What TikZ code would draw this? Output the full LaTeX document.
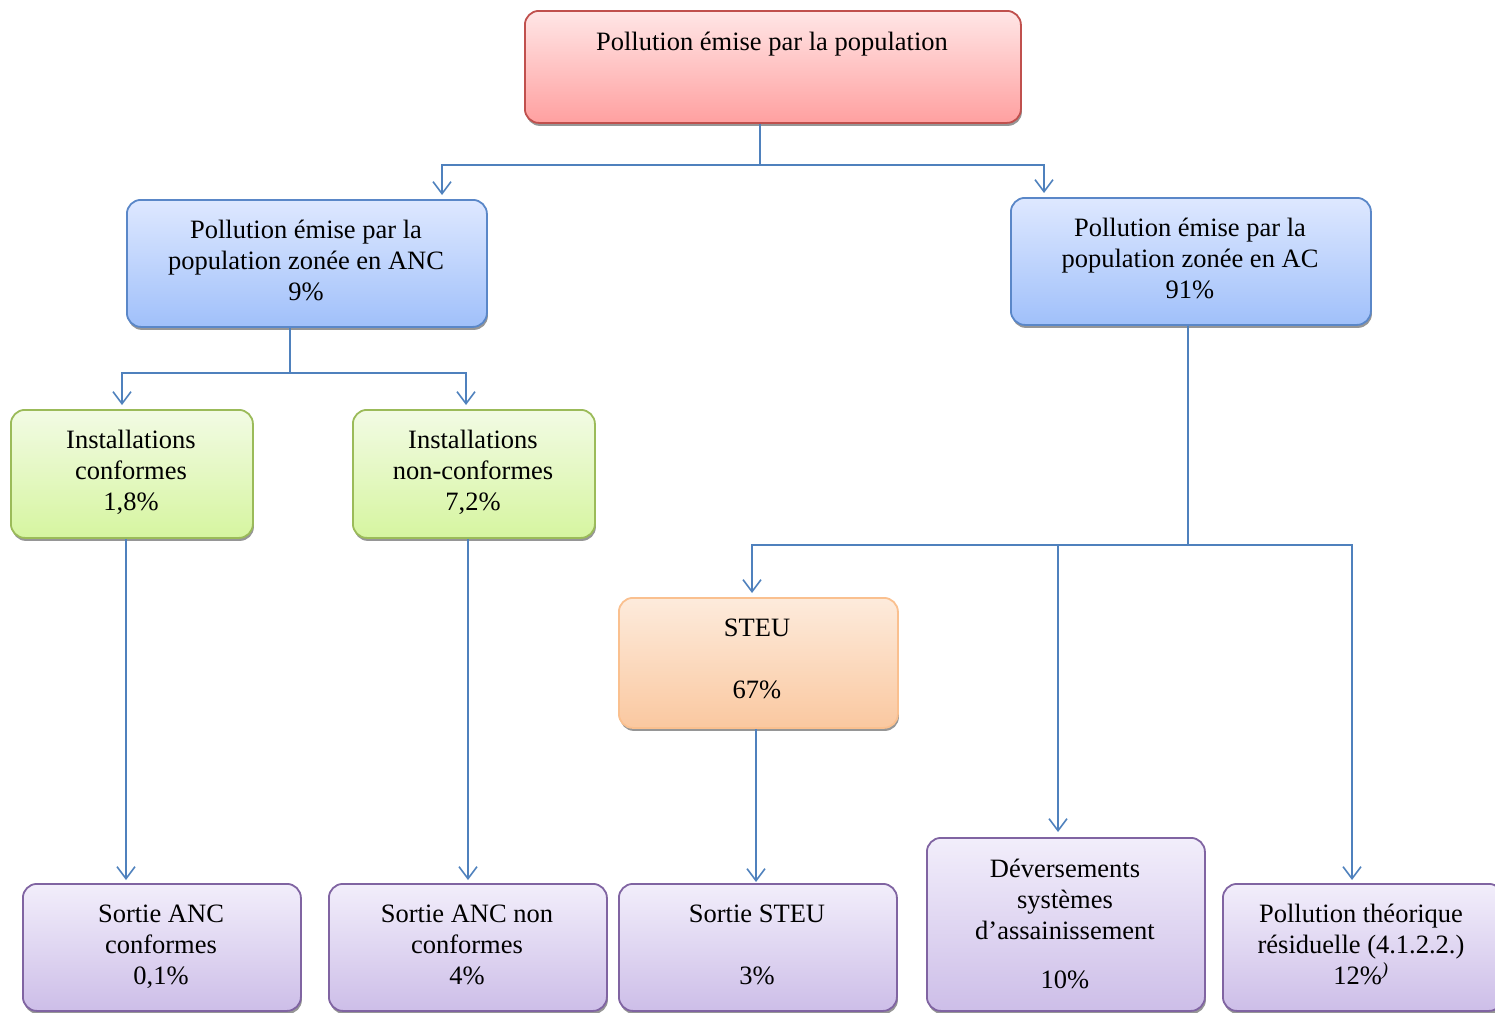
\documentclass[tikz,border=0pt]{standalone}
\usepackage{fontspec}
\setmainfont{Liberation Serif}
\usetikzlibrary{arrows.meta,shadows}
\definecolor{lineblue}{RGB}{79,129,189}
\definecolor{redT}{RGB}{255,230,230}\definecolor{redB}{RGB}{255,160,160}\definecolor{redD}{RGB}{192,80,77}
\definecolor{bluT}{RGB}{222,232,255}\definecolor{bluB}{RGB}{160,192,250}\definecolor{bluD}{RGB}{90,135,200}
\definecolor{grnT}{RGB}{242,251,228}\definecolor{grnB}{RGB}{214,245,160}\definecolor{grnD}{RGB}{155,187,89}
\definecolor{orgT}{RGB}{253,235,220}\definecolor{orgB}{RGB}{250,200,160}\definecolor{orgD}{RGB}{250,192,143}
\definecolor{purT}{RGB}{242,238,251}\definecolor{purB}{RGB}{205,190,232}\definecolor{purD}{RGB}{128,100,162}
\newcommand\fl{\rule{0pt}{24pt}}
\begin{document}
\begin{tikzpicture}[x=1pt,y=-1pt,
  box/.style={rounded corners=14pt, line width=1.8pt, anchor=north west, inner sep=0pt,
    drop shadow={shadow xshift=1pt,shadow yshift=-3pt,fill=black!55,opacity=0.75}},
  redbox/.style={box, draw=redD, top color=redT, bottom color=redB},
  blubox/.style={box, draw=bluD, top color=bluT, bottom color=bluB},
  grnbox/.style={box, draw=grnD, top color=grnT, bottom color=grnB},
  orgbox/.style={box, draw=orgD, top color=orgT, bottom color=orgB},
  purbox/.style={box, draw=purD, top color=purT, bottom color=purB},
  txt/.style={anchor=north, inner sep=0pt, align=center, font=\fontsize{26.5}{31}\selectfont},
  ln/.style={draw=lineblue, line width=1.6pt},
  arr/.style={ln, -{Straight Barb[length=12pt,width=18pt,line width=1.6pt]}}]
\useasboundingbox (0,0) rectangle (1495,1012);

% boxes
\node[redbox, minimum width=496pt, minimum height=112pt] (top) at (524,10) {};
\node[blubox, minimum width=360pt, minimum height=127pt] (anc) at (126,199) {};
\node[blubox, minimum width=360pt, minimum height=127pt] (ac) at (1010,197) {};
\node[grnbox, minimum width=242pt, minimum height=128pt] (ic) at (10,409) {};
\node[grnbox, minimum width=242pt, minimum height=128pt] (inc) at (352,409) {};
\node[orgbox, minimum width=279pt, minimum height=130pt] (steu) at (618,597) {};
\node[purbox, minimum width=278pt, minimum height=127pt] (sac) at (22,883) {};
\node[purbox, minimum width=278pt, minimum height=127pt] (sanc) at (328,883) {};
\node[purbox, minimum width=278pt, minimum height=127pt] (sst) at (618,883) {};
\node[purbox, minimum width=278pt, minimum height=173pt] (dev) at (926,837) {};
\node[purbox, minimum width=280pt, minimum height=127pt] (pth) at (1222,883) {};

% texts
\node[txt] (topT) at (772,26) {\fl Pollution émise par la population};
\node[txt] (ancT) at (306,214) {\fl Pollution émise par la\\population zonée en ANC\\9\%};
\node[txt] (acT) at (1190,212) {\fl Pollution émise par la\\population zonée en AC\\91\%};
\node[txt] (icT) at (131,424) {\fl Installations\\conformes\\1,8\%};
\node[txt] (incT) at (473,424) {\fl Installations\\non-conformes\\7,2\%};
\node[txt] (steuT) at (757,612) {\fl STEU\\[31pt]67\%};
\node[txt] (sacT) at (161,898) {\fl Sortie ANC\\conformes\\0,1\%};
\node[txt] (sancT) at (467,898) {\fl Sortie ANC non\\conformes\\4\%};
\node[txt] (sstT) at (757,898) {\fl Sortie STEU\\[31pt]3\%};
\node[txt] (devT) at (1065,853) {\fl Déversements\\systèmes\\d’assainissement\\[18pt]10\%};
\node[txt] (pthT) at (1361,898) {\fl Pollution théorique\\résiduelle (4.1.2.2.)\\12\%\textsuperscript{\itshape )}};

% junctions and arrow ends
\coordinate (j1) at (760,165);
\coordinate (eAnc) at (442,195);
\coordinate (eAc) at (1044,193);
\coordinate (j2) at (290,373);
\coordinate (eIc) at (122,405);
\coordinate (eInc) at (466,405);
\coordinate (j3) at (1188,545);
\coordinate (eSteu) at (752,593);
\coordinate (eDev) at (1058,832);
\coordinate (ePth) at (1352,880);
\coordinate (eSac) at (126,880);
\coordinate (eSanc) at (468,880);
\coordinate (eSst) at (756,882);

% connectors
\draw[ln] (top.south -| j1) -- (j1);
\draw[arr] (j1) -| (eAnc);
\draw[arr] (j1) -| (eAc);
\draw[ln] (anc.south -| j2) -- (j2);
\draw[arr] (j2) -| (eIc);
\draw[arr] (j2) -| (eInc);
\draw[ln] (ac.south -| j3) -- (j3);
\draw[arr] (j3) -| (eSteu);
\draw[arr] (j3 -| eDev) -- (eDev);
\draw[arr] (j3) -| (ePth);
\draw[arr] (ic.south -| eSac) -- (eSac);
\draw[arr] (inc.south -| eSanc) -- (eSanc);
\draw[arr] (steu.south -| eSst) -- (eSst);
\end{tikzpicture}
\end{document}
